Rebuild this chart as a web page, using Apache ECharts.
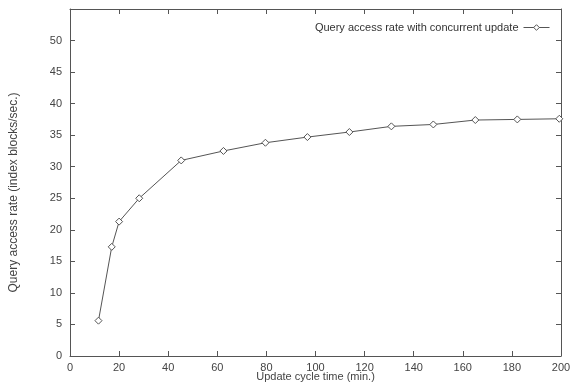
<!DOCTYPE html>
<html>
<head>
<meta charset="utf-8">
<script src="https://cdn.jsdelivr.net/npm/echarts@6/dist/echarts.min.js"></script>
<style>
html,body{margin:0;padding:0;background:#fff;}
#chart{width:571px;height:385px;}
</style>
</head>
<body>
<div id="chart"></div>
<script>
var seriesName = 'Query access rate with concurrent update';
var xName = 'Update cycle time (min.)';
var yName = 'Query access rate (index blocks/sec.)';
var cycleTimes = [11.6, 17.0, 20.0, 28.2, 45.3, 62.5, 79.6, 96.7, 113.8, 130.9, 148.0, 165.1, 182.2, 199.3];
var accessRates = [5.6, 17.3, 21.3, 25.0, 31.0, 32.5, 33.8, 34.7, 35.5, 36.4, 36.7, 37.4, 37.5, 37.6];
var xTicks = [0, 20, 40, 60, 80, 100, 120, 140, 160, 180, 200];
var yTicks = [0, 5, 10, 15, 20, 25, 30, 35, 40, 45, 50];

var data = cycleTimes.map(function (x, i) { return [x, accessRates[i]]; });
var font = 'Liberation Sans, Arial, sans-serif';
var axisCol = '#555';
var txtCol = '#444';

function mirrorAxisCommon() {
  return {
    axisLine: { show: true, onZero: false, lineStyle: { color: axisCol, width: 1 } },
    axisTick: { show: true, inside: true, length: 5, lineStyle: { color: axisCol } },
    axisLabel: { show: false }, splitLine: { show: false }
  };
}

var chart = echarts.init(document.getElementById('chart'));
chart.setOption({
  animation: false,
  backgroundColor: '#fff',
  grid: { left: 70, right: 10, top: 9, bottom: 29, containLabel: false, outerBoundsMode: 'none' },
  legend: {
    data: [seriesName],
    right: 16, top: 17,
    align: 'right',
    itemWidth: 26, itemHeight: 7, itemGap: 6,
    lineStyle: { width: 1, color: '#555' },
    itemStyle: { borderWidth: 1, borderColor: '#555', color: '#fff' },
    textStyle: { fontFamily: font, fontSize: 11, color: '#333' }
  },
  xAxis: [Object.assign({
    type: 'value', min: 0, max: 200, interval: 20,
    name: xName, nameLocation: 'middle', nameGap: 15, nameMoveOverlap: false,
    nameTextStyle: { fontFamily: font, fontSize: 11, color: txtCol }
  }, mirrorAxisCommon(), {
    axisLabel: { fontFamily: font, fontSize: 11, color: txtCol, margin: 6,
      formatter: function (v) { return xTicks.indexOf(v) >= 0 ? String(v) : ''; } }
  }), Object.assign({
    type: 'value', min: 0, max: 200, interval: 20, position: 'top'
  }, mirrorAxisCommon())],
  yAxis: [Object.assign({
    type: 'value', min: 0, max: 55, interval: 5,
    name: yName, nameLocation: 'middle', nameGap: 50, nameRotate: 90, nameMoveOverlap: false,
    nameTextStyle: { fontFamily: font, fontSize: 12, color: txtCol, padding: [0, 20, 0, 0] }
  }, mirrorAxisCommon(), {
    axisLabel: { fontFamily: font, fontSize: 11, color: txtCol, margin: 8,
      formatter: function (v) { return yTicks.indexOf(v) >= 0 ? String(v) : ''; } }
  }), Object.assign({
    type: 'value', min: 0, max: 55, interval: 5, position: 'right'
  }, mirrorAxisCommon())],
  series: [{
    name: seriesName,
    type: 'line',
    data: data,
    xAxisIndex: 0, yAxisIndex: 0,
    symbol: 'diamond', symbolSize: 7,
    showAllSymbol: true,
    itemStyle: { color: '#fff', borderColor: '#555', borderWidth: 1 },
    lineStyle: { color: '#555', width: 1 }
  }]
});
</script>
</body>
</html>
